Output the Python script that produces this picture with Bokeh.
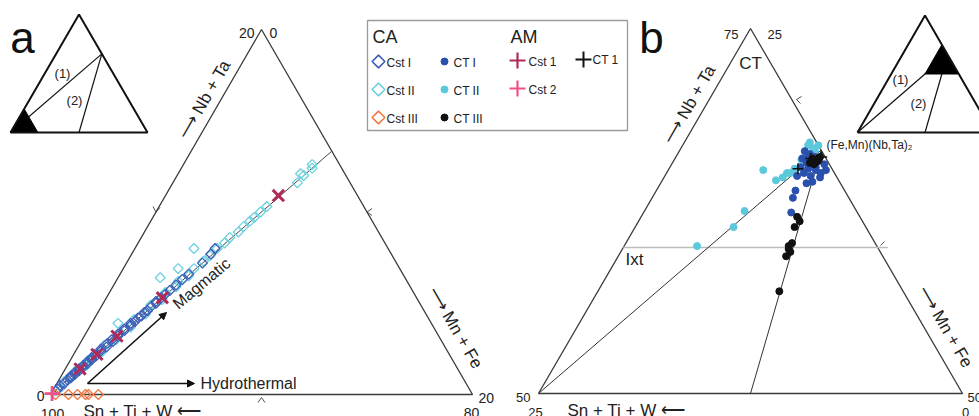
from math import pi
from bokeh.plotting import figure
from bokeh.models import Range1d, Arrow, NormalHead
from bokeh.core.properties import value
from bokeh.embed import file_html
from bokeh.resources import INLINE

FONT = "Liberation Sans"

# ---------------- data: panel a  (Nb+Ta, Mn+Fe ; Sn+Ti+W = 100 - both) ----------------
a_cst1_nb = [0.3, 0.5, 0.6, 0.8, 0.9, 1.0, 1.1, 1.2, 1.3, 1.4, 1.5, 1.6, 1.7, 1.8, 1.9, 2.0,
             2.1, 2.2, 2.4, 2.5, 2.6, 2.8, 2.9, 3.0, 3.2, 3.3, 3.5, 3.6, 3.8, 3.9, 4.0, 4.2,
             4.3, 4.5, 4.6, 4.8, 5.0, 5.1, 5.3, 5.5, 5.7, 6.0, 6.3, 6.6, 7.2, 7.7, 8.0]
a_cst1_mn = [0.2, 0.2, 0.35, 0.4, 0.5, 0.45, 0.6, 0.55, 0.7, 0.65, 0.8, 0.75, 0.9, 0.85, 1.0, 0.95,
             1.1, 1.0, 1.2, 1.15, 1.35, 1.3, 1.5, 1.4, 1.6, 1.55, 1.75, 1.7, 1.9, 1.85, 2.0, 2.05,
             2.15, 2.2, 2.3, 2.35, 2.5, 2.45, 2.6, 2.7, 2.8, 2.95, 3.1, 3.25, 3.6, 3.75, 3.8]
a_cst2_nb = [0.2, 0.4, 0.7, 1.0, 1.3, 1.6, 1.9, 2.3, 2.7, 3.0, 3.4, 3.7, 3.9, 4.1, 4.4, 4.9,
             5.2, 5.6, 5.9, 6.2, 6.4, 6.5, 6.9, 6.9, 7.3, 7.6, 8.0, 8.0, 8.3, 8.6, 8.9, 9.2,
             9.5, 9.7, 10.0, 10.3, 11.6, 12.0, 12.1, 12.4, 12.6]
a_cst2_mn = [0.15, 0.3, 0.3, 0.55, 0.55, 0.9, 0.85, 1.25, 1.2, 1.6, 1.6, 1.95, 1.25, 1.9, 2.3, 2.3,
             2.7, 2.65, 3.0, 2.95, 2.0, 3.3, 3.35, 2.6, 3.6, 3.75, 3.9, 2.8, 4.1, 4.2, 4.45, 4.55,
             4.7, 4.8, 4.95, 5.1, 5.9, 6.0, 5.8, 6.2, 6.1]
a_cst3_nb = [0.0, 0.0, 0.0, 0.0, 0.0, 0.0]
a_cst3_mn = [0.24, 0.85, 1.28, 1.66, 1.8, 2.27]
a_am1_nb = [1.4, 2.2, 3.2, 5.3, 10.9]
a_am1_mn = [0.7, 1.1, 1.55, 2.65, 5.35]
a_am2_nb = [0.05]
a_am2_mn = [0.05]

# ---------------- data: panel b ----------------
b_ct1_nb = [66.6, 66.4, 66.2, 66.0, 65.9, 65.8, 65.5, 65.4, 65.3, 65.1, 65.1, 64.9, 64.9, 64.4,
            65.5, 65.7, 65.3, 64.5, 63.4, 62.4, 63.9, 64.8, 66.1, 66.2]
b_ct1_mn = [32.4, 32.8, 33.2, 33.5, 33.2, 32.9, 32.7, 33.2, 33.7, 34.1, 33.1, 32.8, 33.6, 33.6,
            33.6, 34.0, 34.3, 33.9, 33.3, 33.7, 33.2, 34.2, 32.5, 32.8]
b_ct2_nb = [65.3, 64.8, 65.1, 67.2, 66.8, 67.0, 62.5, 61.4, 60.1, 65.1, 65.4, 66.0, 66.6, 67.0, 64.6]
b_ct2_mn = [30.6, 32.0, 32.1, 32.4, 32.8, 32.4, 30.9, 30.8, 29.3, 32.3, 32.4, 32.5, 33.0, 33.0, 31.7]
b_ct3_nb = [62.1, 61.8, 61.4, 60.3, 59.9, 59.7, 59.4, 60.1, 57.0, 66.1, 65.9, 66.2, 65.8, 65.7]
b_ct3_mn = [34.2, 34.5, 34.4, 34.8, 34.8, 35.0, 34.9, 34.7, 35.7, 33.1, 33.5, 33.5, 33.1, 33.4]
b_amct1_nb = [66.1, 66.0, 66.2, 65.4]
b_amct1_mn = [33.0, 33.4, 33.6, 32.6]

# reference compositions
columbite_nb, columbite_mn = 200 / 3, 100 / 3       # (Fe,Mn)(Nb,Ta)2, Nb:Mn = 2:1
a_line_end_nb, a_line_end_mn = 40 / 3, 20 / 3       # same ratio at Sn+Ti+W = 80
ixt_nb = 60

# tick labels
a_nb_ticks = ["0", "20"]
a_mn_ticks = ["0", "20"]
a_sn_ticks = ["100", "80"]
b_nb_ticks = ["50", "75"]
b_mn_ticks = ["25", "50"]
b_sn_ticks = ["25", "0"]

leg_ca_cst = ["Cst I", "Cst II", "Cst III"]
leg_ca_ct = ["CT I", "CT II", "CT III"]
leg_am = ["Cst 1", "Cst 2"]

# colours
C_CST1 = "#3d5db8"
C_CST2 = "#6dd2de"
C_CST3 = "#f07a45"
C_CT1 = "#2a50ae"
C_CT2 = "#5cc8dc"
C_CT3 = "#111111"
C_AM1 = "#b02a58"
C_AM2 = "#f0508a"
C_LINE = "#3a3a3a"


def make_tern(L, A, R, nb0, mn0, span):
    def f(nb, mn):
        xs, ys = [], []
        for n, m in zip(nb, mn):
            u = (n - nb0) / span
            v = (m - mn0) / span
            xs.append(L[0] + u * (A[0] - L[0]) + v * (R[0] - L[0]))
            ys.append(-(L[1] + u * (A[1] - L[1]) + v * (R[1] - L[1])))
        return xs, ys
    return f


ta = make_tern((50, 394), (261, 29), (472, 394), 0, 0, 20)
tb = make_tern((538, 393), (750, 28), (962, 393), 50, 25, 25)
tia = make_tern((10, 132), (78.5, 14), (147, 132), 0, 0, 100)
tib = make_tern((857, 132), (924.5, 15), (992, 132), 0, 0, 100)

p = figure(width=979, height=416, x_range=Range1d(0, 979), y_range=Range1d(-416, 0),
           output_backend="svg", toolbar_location=None, min_border=0,
           x_axis_type=None, y_axis_type=None)
p.grid.visible = False
p.outline_line_color = None
p.background_fill_color = "white"


def label(x, y, s, size, align="left", angle=0.0, color="#222222"):
    # y is the visual (cap-height) centre of the text
    p.text(x=[x], y=[-y], text=[s], text_font=value(FONT), text_font_size=f"{size}px",
           text_align=align, text_baseline="middle", angle=angle, text_color=color)


def seg(x0, y0, x1, y1, color=C_LINE, w=1.0):
    p.line([x0, x1], [-y0, -y1], line_color=color, line_width=w)


def diamonds(xs, ys, size, color, lw):
    p.scatter(xs, ys, marker="square", angle=pi / 4, size=size, fill_color=None,
              line_color=color, line_width=lw)


# ================= panel a =================
xs, ys = ta([0, 20, 0, 0], [0, 0, 20, 0])
p.line(xs, ys, line_color=C_LINE, line_width=1.3)
xs, ys = ta([0, a_line_end_nb], [0, a_line_end_mn])
p.line(xs, ys, line_color="#444444", line_width=1.0)

# mid-side ticks
seg(155.5, 211.5, 152.5, 206, w=0.9); seg(155.5, 211.5, 159.5, 207, w=0.9)
seg(366.5, 211.5, 371.5, 208, w=0.9); seg(366.5, 211.5, 371.5, 215, w=0.9)
seg(261, 397, 257.5, 402, w=0.9); seg(261, 397, 264.5, 402, w=0.9)

# arrows
p.add_layout(Arrow(end=NormalHead(size=7, fill_color="#111111", line_color="#111111"),
                   x_start=87, y_start=-383, x_end=166, y_end=-312,
                   line_width=1.6, line_color="#111111"))
p.add_layout(Arrow(end=NormalHead(size=7, fill_color="#111111", line_color="#111111"),
                   x_start=87, y_start=-383, x_end=194, y_end=-383,
                   line_width=1.6, line_color="#111111"))

# data
xs, ys = ta(a_cst2_nb, a_cst2_mn)
diamonds(xs, ys, 7, C_CST2, 1.3)
xs, ys = ta(a_cst1_nb, a_cst1_mn)
diamonds(xs, ys, 7, C_CST1, 1.3)
xs, ys = ta(a_cst3_nb, a_cst3_mn)
diamonds(xs, ys, 7, C_CST3, 1.3)
xs, ys = ta(a_am1_nb, a_am1_mn)
p.scatter(xs, ys, marker="x", size=16, line_color=C_AM1, line_width=3)
xs, ys = ta(a_am2_nb, a_am2_mn)
p.scatter(xs, ys, marker="cross", size=15, line_color=C_AM2, line_width=2.8)

# texts
label(22, 37, "a", 44, align="center", color="#111111")
label(254, 32.5, a_nb_ticks[1], 14, align="right")
label(269, 32.5, a_mn_ticks[0], 14, align="left")
label(44, 395, a_nb_ticks[0], 14, align="right")
label(478, 397, a_mn_ticks[1], 14, align="left")
label(52, 413, a_sn_ticks[0], 14, align="center")
label(471, 412, a_sn_ticks[1], 14, align="center")
label(83, 410.5, "Sn + Ti + W \u27f5", 17, align="left")
label(205, 97, "\u27f6  Nb + Ta", 17, align="center", angle=pi / 3)
label(456, 329, "\u27f6  Mn + Fe", 17, align="center", angle=-pi / 3)
label(200, 383, "Hydrothermal", 16, align="left")
label(201, 283, "Magmatic", 16, align="center", angle=0.70)

# inset a
xs, ys = tia([0, 200 / 3], [0, 100 / 3])
p.line(xs, ys, line_color="#111111", line_width=1.2)
xs, ys = tia([200 / 3, 0], [100 / 3, 50])
p.line(xs, ys, line_color="#111111", line_width=1.2)
xs, ys = tia([0, 20, 0], [0, 0, 20])
p.patch(xs, ys, fill_color="black", line_color="black")
xs, ys = tia([0, 100, 0, 0], [0, 0, 100, 0])
p.line(xs, ys, line_color="#111111", line_width=2)
label(62, 73, "(1)", 13, align="center")
label(74, 100, "(2)", 13, align="center")

# ================= legend =================
p.quad(left=[367], right=[627], top=[-20], bottom=[-130], fill_color="white",
       line_color="#9a9a9a", line_width=1.3)
label(372, 36, "CA", 18)
label(510, 36, "AM", 18)
rows = [61, 89, 117]
cst_cols = [C_CST1, C_CST2, C_CST3]
ct_cols = [C_CT1, C_CT2, C_CT3]
for i in range(3):
    diamonds([378], [-rows[i]], 9, cst_cols[i], 1.6)
    label(386, rows[i] + 1, leg_ca_cst[i], 12)
    p.scatter([444], [-rows[i]], marker="circle", size=7, fill_color=ct_cols[i],
              line_color=ct_cols[i])
    label(453, rows[i] + 1, leg_ca_ct[i], 12)
am_cols = [C_AM1, C_AM2]
for i in range(2):
    p.scatter([517], [-(rows[i] - 1)], marker="cross", size=16, line_color=am_cols[i], line_width=2.2)
    label(528, rows[i], leg_am[i], 12)
p.scatter([583], [-59], marker="cross", size=16, line_color="#111111", line_width=2)
label(592, 59, "CT 1", 12)

# ================= panel b =================
xs, ys = tb([50, 75, 50, 50], [25, 25, 50, 25])
p.line(xs, ys, line_color=C_LINE, line_width=1.3)
xs, ys = tb([ixt_nb, ixt_nb], [25, 40.6])
p.line(xs, ys, line_color="#bdbdbd", line_width=1.6)
xs, ys = tb([50, columbite_nb], [25, columbite_mn])
p.line(xs, ys, line_color="#333333", line_width=1.0)
xs, ys = tb([columbite_nb, 50], [columbite_mn, 37.5])
p.line(xs, ys, line_color="#333333", line_width=1.0)
seg(796, 99, 801, 96, w=0.9); seg(796, 99, 800, 103, w=0.9)
seg(880, 245, 884, 241, w=0.9)

xs, ys = tb(b_ct2_nb, b_ct2_mn)
p.scatter(xs, ys, marker="circle", size=7, fill_color=C_CT2, line_color=C_CT2)
xs, ys = tb(b_ct1_nb, b_ct1_mn)
p.scatter(xs, ys, marker="circle", size=7, fill_color=C_CT1, line_color=C_CT1)
xs, ys = tb(b_ct3_nb, b_ct3_mn)
p.scatter(xs, ys, marker="circle", size=7, fill_color=C_CT3, line_color=C_CT3)
xs, ys = tb(b_amct1_nb, b_amct1_mn)
p.scatter(xs, ys, marker="cross", size=11, line_color="#111111", line_width=1.5)

label(651, 37, "b", 44, align="center", color="#111111")
label(738, 33.5, b_nb_ticks[1], 13, align="right")
label(767, 33.5, b_mn_ticks[0], 13, align="left")
label(750, 62.5, "CT", 17, align="center")
label(625, 258.5, "Ixt", 17, align="left")
label(826, 144, "(Fe,Mn)(Nb,Ta)\u2082", 12, align="left")
label(530, 397, b_nb_ticks[0], 13, align="right")
label(535, 411.5, b_sn_ticks[0], 13, align="center")
label(967, 397, b_mn_ticks[1], 13, align="left")
label(965, 411.5, b_sn_ticks[1], 13, align="center")
label(567, 410, "Sn + Ti + W \u27f5", 17, align="left")
label(690, 102, "\u27f6  Nb + Ta", 17, align="center", angle=pi / 3)
label(946, 328, "\u27f6  Mn + Fe", 17, align="center", angle=-pi / 3)

# inset b
xs, ys = tib([0, 200 / 3], [0, 100 / 3])
p.line(xs, ys, line_color="#111111", line_width=1.2)
xs, ys = tib([200 / 3, 0], [100 / 3, 50])
p.line(xs, ys, line_color="#111111", line_width=1.2)
xs, ys = tib([75, 50, 50], [25, 25, 50])
p.patch(xs, ys, fill_color="black", line_color="black")
xs, ys = tib([0, 100, 0, 0], [0, 0, 100, 0])
p.line(xs, ys, line_color="#111111", line_width=2)
label(900, 79, "(1)", 13, align="center")
label(918, 103, "(2)", 13, align="center")

open("out.html", "w").write(file_html(p, INLINE))
